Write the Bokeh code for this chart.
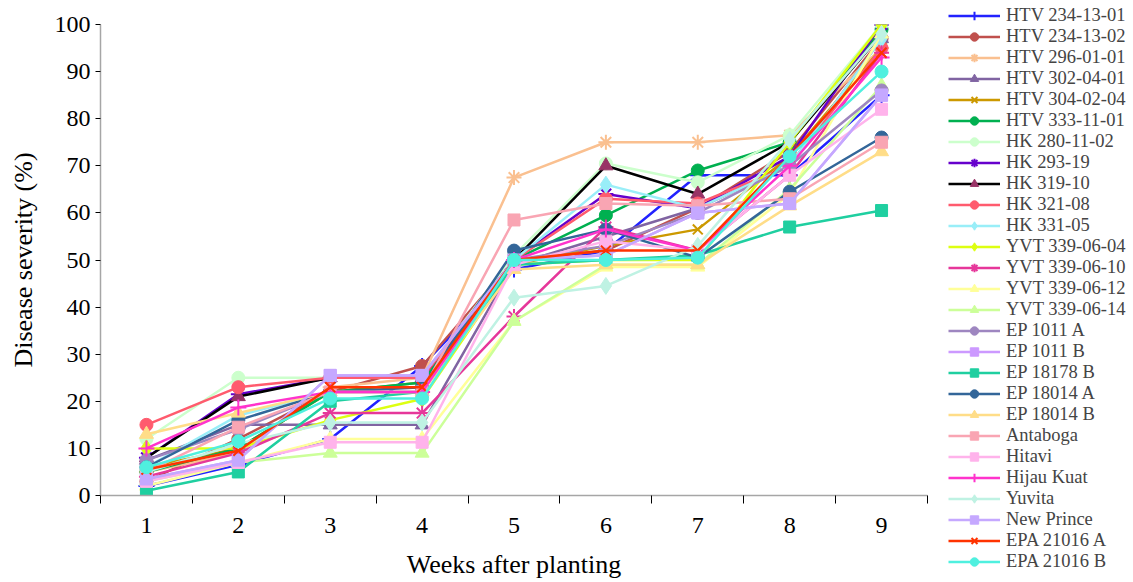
from bokeh.plotting import figure
from bokeh.models import FixedTicker, Legend, LegendItem, Range1d
from bokeh.embed import file_html
from bokeh.resources import INLINE

weeks = [1, 2, 3, 4, 5, 6, 7, 8, 9]
y_ticks = [0, 10, 20, 30, 40, 50, 60, 70, 80, 90, 100]

names = ["HTV 234-13-01", "HTV 234-13-02", "HTV 296-01-01", "HTV 302-04-01", "HTV 304-02-04",
         "HTV 333-11-01", "HK 280-11-02", "HK 293-19", "HK 319-10", "HK 321-08", "HK 331-05",
         "YVT 339-06-04", "YVT 339-06-10", "YVT 339-06-12", "YVT 339-06-14", "EP 1011 A",
         "EP 1011 B", "EP 18178 B", "EP 18014 A", "EP 18014 B", "Antaboga", "Hitavi",
         "Hijau Kuat", "Yuvita", "New Prince", "EPA 21016 A", "EPA 21016 B"]

htv_234_13_01 = [2, 6.5, 12, 27.5, 48, 52, 68, 68, 85]
htv_234_13_02 = [3, 12, 22, 27.5, 50, 52, 61, 73, 97]
htv_296_01_01 = [5, 9, 23, 25, 67.5, 75, 75, 76.5, 95]
htv_302_04_01 = [7.5, 15, 15, 15, 49, 55, 61, 70, 97]
htv_304_02_04 = [6, 10, 22, 24, 49, 53, 56.5, 72, 95]
htv_333_11_01 = [5, 10, 22, 24, 50, 59.5, 69, 75, 99]
hk_280_11_02 = [12, 25, 25, 25, 51, 70.5, 66.5, 76.5, 100]
hk_293_19 = [8, 21.5, 25, 25, 50, 64, 61, 72, 100]
hk_319_10 = [8, 21, 25, 25, 50, 70, 64, 75, 98]
hk_321_08 = [15, 23, 25, 25, 50, 63, 62, 70, 95]
hk_331_05 = [6, 17, 22, 22, 50, 66, 61, 70, 97]
yvt_339_06_04 = [10, 10, 16, 20.5, 49, 50, 50, 75, 100]
yvt_339_06_10 = [4, 9, 17.5, 17.5, 38, 57, 52, 68, 94]
yvt_339_06_12 = [2, 7, 12, 12, 37, 48.5, 48.5, 64, 98]
yvt_339_06_14 = [3, 7, 9, 9, 37, 49, 49, 65, 87]
ep_1011_a = [7.5, 14, 22, 22, 50, 53, 60, 70, 86]
ep_1011_b = [3.5, 7.5, 25.5, 25.5, 50, 51, 60, 62, 85]
ep_18178_b = [1, 5, 20, 22, 49, 50, 51, 57, 60.5]
ep_18014_a = [6, 16, 22, 23, 52, 56.5, 50.5, 64.5, 76]
ep_18014_b = [13, 17.5, 22, 22, 48, 49, 49, 61.5, 73]
antaboga = [5, 14.5, 22, 22, 58.5, 62, 61.5, 63, 75]
hitavi = [3, 7, 11.3, 11.3, 49, 54, 52, 68, 82]
hijau_kuat = [10, 18.7, 22, 22, 50, 56.5, 52, 70, 93]
yuvita = [5, 11, 15.5, 15.5, 42, 44.5, 53, 75.5, 98]
new_prince = [3.5, 7.5, 25.5, 25.5, 50, 51, 60, 62, 85]
epa_21016_a = [5.5, 9.5, 23, 23, 50, 52, 52, 72, 94]
epa_21016_b = [6, 11.5, 20.6, 20.6, 50, 50, 50.5, 72, 90]

values = [htv_234_13_01, htv_234_13_02, htv_296_01_01, htv_302_04_01, htv_304_02_04,
          htv_333_11_01, hk_280_11_02, hk_293_19, hk_319_10, hk_321_08, hk_331_05,
          yvt_339_06_04, yvt_339_06_10, yvt_339_06_12, yvt_339_06_14, ep_1011_a,
          ep_1011_b, ep_18178_b, ep_18014_a, ep_18014_b, antaboga, hitavi,
          hijau_kuat, yuvita, new_prince, epa_21016_a, epa_21016_b]

line_colors = ["#2222FF", "#C0504D", "#FAC090", "#8064A2", "#CC9900", "#00B050", "#CCFFCC",
               "#6600CC", "#000000", "#FF5B6E", "#99EEF8", "#DDFF11", "#E6379A", "#FFFF99",
               "#CCFF99", "#9E86C0", "#CC99FF", "#1FCFA0", "#336699", "#FFDD88", "#F9A5B3",
               "#FFB3EB", "#FF33CC", "#BFF2E3", "#C5A8FF", "#FF3300", "#4FF0DF"]
marker_colors = list(line_colors)
marker_colors[8] = "#993366"
markers = ["cross", "circle", "asterisk", "triangle", "x", "circle", "circle", "asterisk",
           "triangle", "circle", "diamond", "diamond", "asterisk", "triangle", "triangle",
           "circle", "square", "square", "circle", "triangle", "square", "square", "cross",
           "diamond", "square", "x", "circle"]
msize = {"cross": 16, "circle": 13, "asterisk": 15, "triangle": 14, "x": 14,
         "diamond": 17, "square": 12}

FONT = "Liberation Serif"

p = figure(width=1125, height=580, output_backend="svg", toolbar_location=None,
           x_range=Range1d(0.5, 9.5), y_range=Range1d(0, 100),
           min_border_left=100, min_border_top=24, min_border_right=198, min_border_bottom=85)
p.frame_width = 827
p.frame_height = 471
p.outline_line_color = None
p.grid.visible = False
p.background_fill_color = "white"

p.xaxis.ticker = FixedTicker(ticks=weeks, minor_ticks=[w - 0.5 for w in weeks] + [9.5])
p.xaxis.major_tick_out = 0
p.xaxis.major_tick_in = 0
p.xaxis.minor_tick_out = 8
p.xaxis.minor_tick_in = 0
p.xaxis.minor_tick_line_color = "#000000"
p.yaxis.ticker = FixedTicker(ticks=y_ticks)
p.yaxis.major_tick_out = 5
p.yaxis.major_tick_in = 0
p.yaxis.minor_tick_line_color = None
for ax in (p.xaxis, p.yaxis):
    ax.axis_line_color = "#A6A6A6"
    ax.axis_line_width = 1.5
    ax.major_tick_line_color = "#000000"
    ax.major_label_text_font = FONT
    ax.major_label_text_font_size = "24px"
    ax.major_label_text_color = "#000000"
    ax.axis_label_text_font = FONT
    ax.axis_label_text_font_size = "26px"
    ax.axis_label_text_font_style = "normal"
    ax.axis_label_text_color = "#000000"
p.xaxis.major_label_standoff = 14
p.yaxis.major_label_standoff = 5
p.xaxis.axis_label = "Weeks after planting"
p.yaxis.axis_label = "Disease severity (%)"
p.xaxis.axis_label_standoff = 14
p.yaxis.axis_label_standoff = 14

items = []
for name, vals, lc, mc, mk in zip(names, values, line_colors, marker_colors, markers):
    r1 = p.line(weeks, vals, line_color=lc, line_width=2.5)
    r2 = p.scatter(weeks, vals, marker=mk, size=msize[mk], fill_color=mc, line_color=mc,
                   line_width=2 if mk in ("cross", "asterisk", "x") else 1)
    items.append(LegendItem(label=name, renderers=[r1, r2]))

legend = Legend(items=items, location=(21, -77), margin=0, padding=0, spacing=0,
                glyph_width=52, glyph_height=21, label_height=21, label_standoff=6,
                label_text_font=FONT, label_text_font_size="18.5px",
                border_line_color=None, background_fill_alpha=0)
p.add_layout(legend, "right")

open("out.html", "w").write(file_html(p, INLINE))
